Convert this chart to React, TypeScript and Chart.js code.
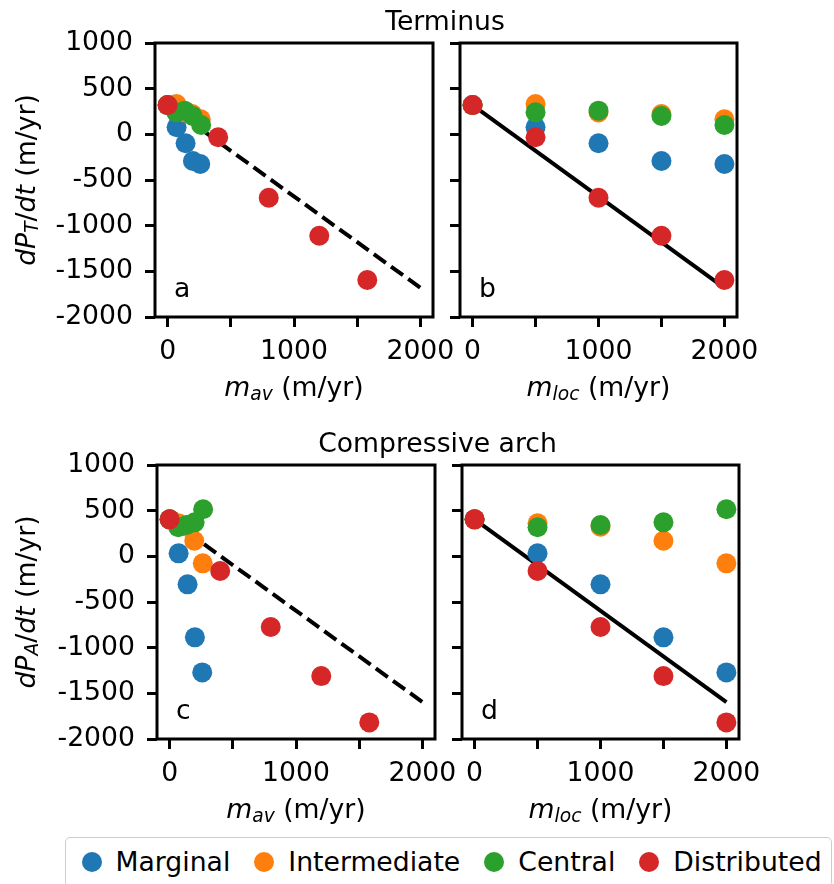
import React, { useEffect, useRef } from 'react';
import { Chart, registerables } from 'chart.js';

Chart.register(...registerables);

// ---------------- data ----------------
const seriesNames = ['Marginal', 'Intermediate', 'Central', 'Distributed'];
const seriesColors = ['#1f77b4', '#ff7f0e', '#2ca02c', '#d62728'];

// local melt rate (m/yr)
const mLoc = [0, 500, 1000, 1500, 2000];
// area-averaged melt rate (m/yr) for each melt distribution
const mAvMarginal = [0, 71, 142, 200, 258];
const mAvIntermediate = [0, 70, 138, 195, 262];
const mAvCentral = [0, 68, 135, 198, 265];
const mAvDistributed = [0, 400, 800, 1200, 1580];

// Terminus: dP_T/dt (m/yr)
const termMarginal = [320, 77, -98, -292, -325];
const termIntermediate = [320, 332, 240, 222, 164];
const termCentral = [320, 241, 259, 201, 102];
const termDistributed = [320, -32, -694, -1110, -1595];

// Compressive arch: dP_A/dt (m/yr)
const archMarginal = [405, 33, -307, -887, -1271];
const archIntermediate = [405, 361, 324, 171, -77];
const archCentral = [405, 318, 343, 372, 515];
const archDistributed = [405, -161, -774, -1311, -1818];

// reference lines
const fitLineX = [0, 2000];
const termFitY = [320, -1680];
const archFitY = [405, -1595];

// ticks
const xTicks = [0, 500, 1000, 1500, 2000];
const xTickLabels = ['0', '', '1000', '', '2000'];
const yTicks = [-2000, -1500, -1000, -500, 0, 500, 1000];
const yTickLabels = ['-2000', '-1500', '-1000', '-500', '0', '500', '1000'];

// ---------------- styling / layout ----------------
const W = 834;
const H = 884;
const FONT = 'DejaVu Sans';
const FS = 26.67;
const Y_AXIS_W = 150;
const X_AXIS_H = 60;

type PanelDef = {
  id: string;
  letter: string;
  area: { left: number; right: number; top: number; bottom: number };
  xs: number[][];
  ys: number[][];
  fitY: number[];
  dashed: boolean;
  yLabels: boolean;
};

const panels: PanelDef[] = [
  {
    id: 'a', letter: 'a',
    area: { left: 155, right: 433, top: 43, bottom: 317 },
    xs: [mAvMarginal, mAvIntermediate, mAvCentral, mAvDistributed],
    ys: [termMarginal, termIntermediate, termCentral, termDistributed],
    fitY: termFitY, dashed: true, yLabels: true,
  },
  {
    id: 'b', letter: 'b',
    area: { left: 460, right: 737, top: 43, bottom: 317 },
    xs: [mLoc, mLoc, mLoc, mLoc],
    ys: [termMarginal, termIntermediate, termCentral, termDistributed],
    fitY: termFitY, dashed: false, yLabels: false,
  },
  {
    id: 'c', letter: 'c',
    area: { left: 157, right: 435, top: 465, bottom: 739 },
    xs: [mAvMarginal, mAvIntermediate, mAvCentral, mAvDistributed],
    ys: [archMarginal, archIntermediate, archCentral, archDistributed],
    fitY: archFitY, dashed: true, yLabels: true,
  },
  {
    id: 'd', letter: 'd',
    area: { left: 462, right: 739, top: 465, bottom: 739 },
    xs: [mLoc, mLoc, mLoc, mLoc],
    ys: [archMarginal, archIntermediate, archCentral, archDistributed],
    fitY: archFitY, dashed: false, yLabels: false,
  },
];

const framePlugin = {
  id: 'frame',
  afterDraw(chart: any) {
    const { ctx, chartArea } = chart;
    const { left, top, right, bottom } = chartArea;
    ctx.save();
    ctx.strokeStyle = '#000';
    ctx.lineWidth = 3;
    ctx.strokeRect(left, top, right - left, bottom - top);
    ctx.restore();
  },
};

function buildConfig(p: PanelDef): any {
  const datasets: any[] = p.xs.map((xs, i) => ({
    label: seriesNames[i],
    data: xs.map((x, k) => ({ x, y: p.ys[i][k] })),
    backgroundColor: seriesColors[i],
    borderColor: seriesColors[i],
    borderWidth: 0,
    pointRadius: 10,
    pointHoverRadius: 10,
    order: 4 - i,
    clip: false,
  }));
  datasets.push({
    label: 'fit',
    data: fitLineX.map((x, k) => ({ x, y: p.fitY[k] })),
    showLine: true,
    borderColor: '#000',
    backgroundColor: '#000',
    borderWidth: 4,
    borderDash: p.dashed ? [14.8, 6.4] : [],
    pointRadius: 0,
    pointHoverRadius: 0,
    order: 10,
    clip: false,
    fill: false,
  });

  const tickFont = { family: FONT, size: FS };
  const gridOpts = {
    display: true,
    drawOnChartArea: false,
    drawTicks: true,
    tickLength: 10,
    tickWidth: 3,
    tickColor: '#000',
  };

  return {
    type: 'scatter',
    data: { datasets },
    plugins: [framePlugin],
    options: {
      animation: false,
      responsive: false,
      devicePixelRatio: 1,
      events: [],
      layout: {
        autoPadding: false,
        padding: {
          left: p.area.left - Y_AXIS_W,
          right: W - p.area.right,
          top: p.area.top,
          bottom: H - p.area.bottom - X_AXIS_H,
        },
      },
      plugins: {
        legend: { display: false },
        tooltip: { enabled: false },
        title: { display: false },
      },
      scales: {
        x: {
          type: 'linear',
          position: 'bottom',
          min: -100,
          max: 2100,
          afterBuildTicks: (s: any) => {
            s.ticks = xTicks.map((v) => ({ value: v }));
          },
          afterFit: (s: any) => {
            s.height = X_AXIS_H;
          },
          grid: gridOpts,
          border: { display: false },
          ticks: {
            autoSkip: false,
            maxRotation: 0,
            minRotation: 0,
            padding: 9,
            color: '#000',
            font: tickFont,
            callback: (v: number) => {
              const i = xTicks.indexOf(v);
              return i >= 0 ? xTickLabels[i] : '';
            },
          },
        },
        y: {
          type: 'linear',
          position: 'left',
          min: -2000,
          max: 1000,
          afterBuildTicks: (s: any) => {
            s.ticks = yTicks.map((v) => ({ value: v }));
          },
          afterFit: (s: any) => {
            s.width = Y_AXIS_W;
          },
          grid: gridOpts,
          border: { display: false },
          ticks: {
            autoSkip: false,
            padding: 12,
            color: '#000',
            font: tickFont,
            callback: (v: number) => {
              if (!p.yLabels) return '';
              const i = yTicks.indexOf(v);
              return i >= 0 ? yTickLabels[i] : '';
            },
          },
        },
      },
    },
  };
}

function Panel({ p }: { p: PanelDef }) {
  const ref = useRef<HTMLCanvasElement>(null);
  useEffect(() => {
    const chart = new Chart(ref.current as HTMLCanvasElement, buildConfig(p));
    return () => chart.destroy();
  }, [p]);
  return (
    <canvas
      ref={ref}
      width={W}
      height={H}
      style={{ position: 'absolute', left: 0, top: 0, width: W, height: H }}
    />
  );
}

const Sub = ({ children }: { children: React.ReactNode }) => (
  <span style={{ fontSize: '0.7em', position: 'relative', top: '3.3px' }}>{children}</span>
);

function Label({
  cx, cy, rotate, children,
}: { cx: number; cy: number; rotate?: boolean; children: React.ReactNode }) {
  return (
    <div
      style={{
        position: 'absolute',
        left: cx,
        top: cy,
        transform: `translate(-50%, -50%)${rotate ? ' rotate(-90deg)' : ''}`,
        fontSize: FS,
        lineHeight: 1,
        whiteSpace: 'nowrap',
        fontFamily: FONT,
        color: '#000',
      }}
    >
      {children}
    </div>
  );
}

const XLabelAv = () => (
  <>
    <i>m</i>
    <Sub><i>av</i></Sub> (m/yr)
  </>
);
const XLabelLoc = () => (
  <>
    <i>m</i>
    <Sub><i>loc</i></Sub> (m/yr)
  </>
);

export default function App() {
  return (
    <div
      style={{
        position: 'absolute',
        left: 0,
        top: 0,
        width: W,
        height: H,
        overflow: 'hidden',
        background: '#fff',
        fontFamily: FONT,
        color: '#000',
      }}
    >
      {panels.map((p) => (
        <Panel key={p.id} p={p} />
      ))}

      {/* row titles */}
      <Label cx={445} cy={20.5}>Terminus</Label>
      <Label cx={437.5} cy={442.5}>Compressive arch</Label>

      {/* x-axis labels */}
      <Label cx={294} cy={387.3}><XLabelAv /></Label>
      <Label cx={598.5} cy={387.3}><XLabelLoc /></Label>
      <Label cx={296} cy={809.3}><XLabelAv /></Label>
      <Label cx={600.5} cy={809.3}><XLabelLoc /></Label>

      {/* y-axis labels */}
      <Label cx={25.5} cy={180} rotate>
        <i>dP</i><Sub><i>T</i></Sub>/<i>dt</i> (m/yr)
      </Label>
      <Label cx={25.5} cy={602} rotate>
        <i>dP</i><Sub><i>A</i></Sub>/<i>dt</i> (m/yr)
      </Label>

      {/* panel letters */}
      {panels.map((p) => (
        <div
          key={'l' + p.id}
          style={{
            position: 'absolute',
            left: p.area.left + 19,
            top: p.area.bottom - 19 - 22.56,
            fontSize: FS,
            lineHeight: 1,
            fontFamily: FONT,
          }}
        >
          {p.letter}
        </div>
      ))}

      {/* legend */}
      <div
        style={{
          position: 'absolute',
          left: 65,
          top: 837,
          width: 767,
          height: 50,
          boxSizing: 'border-box',
          border: '1.5px solid #cccccc',
          borderRadius: 5,
          background: '#fff',
          display: 'flex',
          alignItems: 'center',
          paddingLeft: 15.5,
        }}
      >
        {seriesNames.map((n, i) => (
          <div key={n} style={{ display: 'flex', alignItems: 'center', marginLeft: i ? 24 : 0 }}>
            <span
              style={{
                width: 20,
                height: 20,
                borderRadius: '50%',
                background: seriesColors[i],
                marginRight: 14,
                flex: 'none',
                display: 'inline-block',
              }}
            />
            <span style={{ fontSize: FS, lineHeight: 1, whiteSpace: 'nowrap' }}>{n}</span>
          </div>
        ))}
      </div>
    </div>
  );
}
